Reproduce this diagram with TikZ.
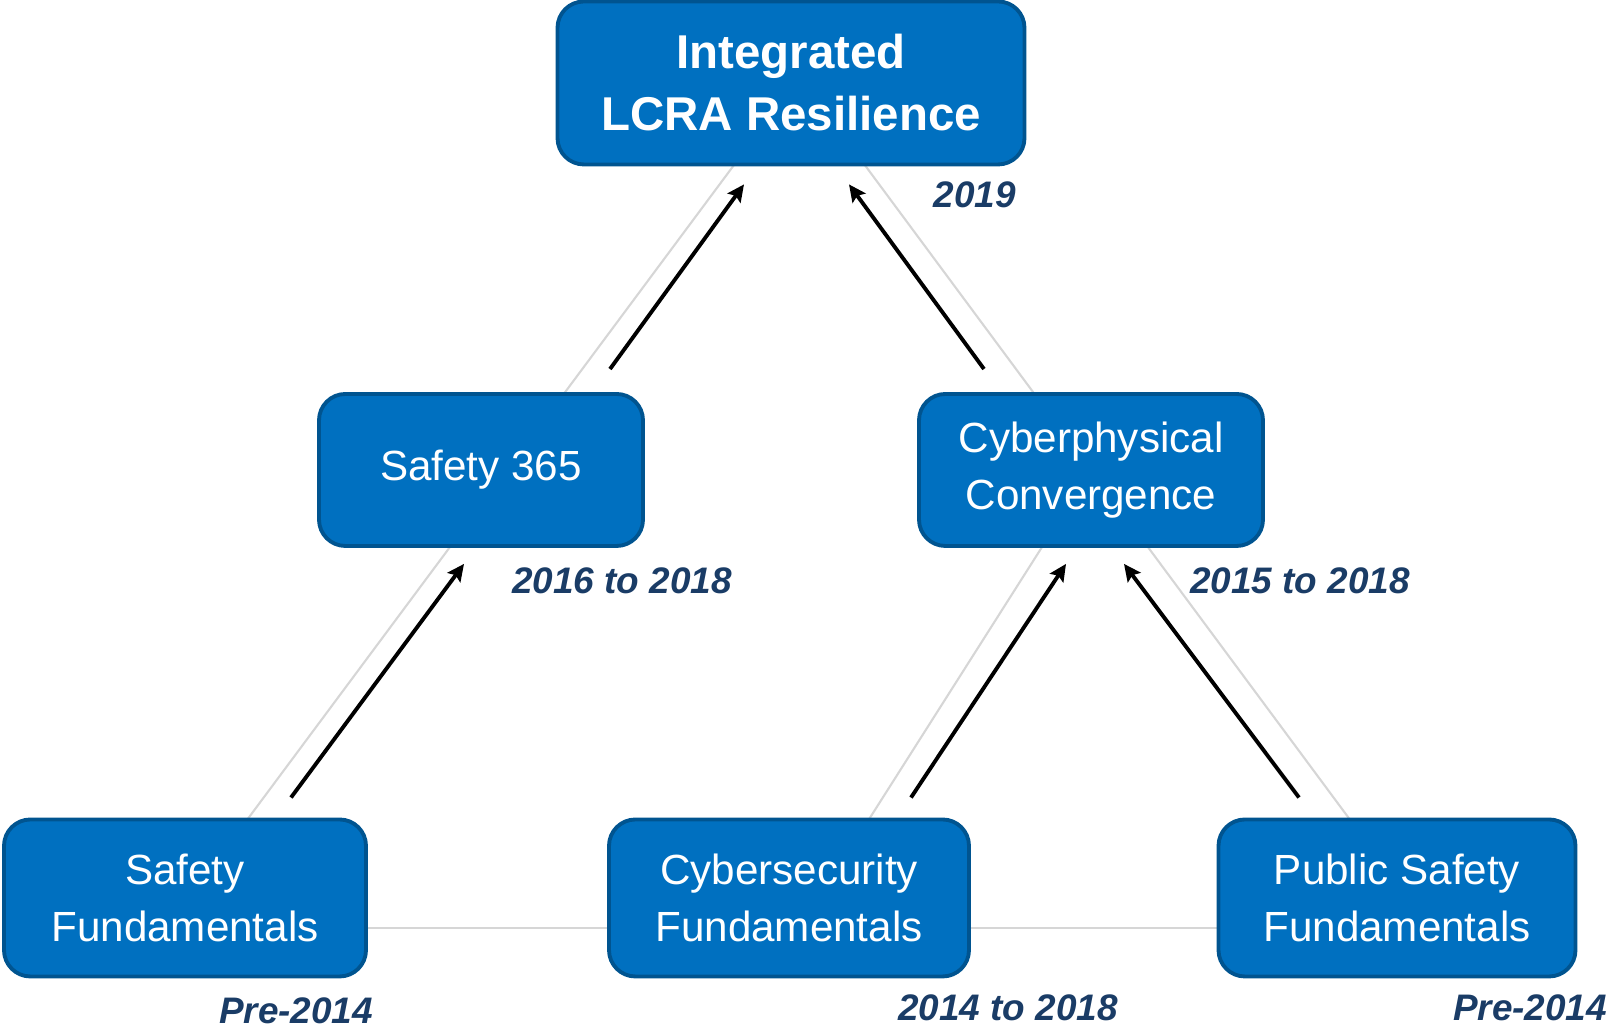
\documentclass[tikz,border=0pt]{standalone}
\usepackage{fontspec}
\setmainfont{Liberation Sans}
\usetikzlibrary{arrows.meta,backgrounds}

\definecolor{boxblue}{RGB}{0,112,192}
\definecolor{boxedge}{RGB}{0,84,144}
\definecolor{yearblue}{RGB}{26,60,102}
\definecolor{guide}{RGB}{214,214,214}

\begin{document}
\begin{tikzpicture}[
  font=\fontsize{12}{16.3}\selectfont,
  stage/.style={rectangle, draw=boxedge, line width=1.1pt, rounded corners=7.5pt,
                fill=boxblue, text=white, align=center, minimum height=1.57cm},
  year/.style={font=\fontsize{10.5}{12}\selectfont\bfseries\itshape, text=yearblue},
  link/.style={draw=guide, line width=0.6pt},
  arr/.style={-{Stealth[length=1.7mm,width=1.6mm,inset=0.3mm]}, line width=1.1pt}
]
\useasboundingbox (0,0) rectangle (16.10,10.29);

% --- Etapas ---
\node[stage, minimum width=4.67cm, minimum height=1.63cm,
      font=\fontsize{13.5}{17.6}\selectfont\bfseries] (res) at (7.91, 9.46)
      {Integrated\\LCRA Resilience};
\node[stage, minimum width=3.24cm, minimum height=1.52cm] (s365) at (4.81, 5.59)
      {Safety 365};
\node[stage, minimum width=3.44cm, minimum height=1.52cm] (cyber) at (10.91, 5.59)
      {Cyberphysical\\Convergence};
\node[stage, minimum width=3.62cm] (sf) at (1.85, 1.31)
      {Safety\\Fundamentals};
\node[stage, minimum width=3.60cm] (csf) at (7.89, 1.31)
      {Cybersecurity\\Fundamentals};
\node[stage, minimum width=3.57cm] (psf) at (13.97, 1.31)
      {Public Safety\\Fundamentals};

% --- Periodos ---
\node[year] (y19) at (9.75, 8.34) {2019};
\node[year] (y1618) at (6.22, 4.48) {2016 to 2018};
\node[year] (y1518) at (13.00, 4.48) {2015 to 2018};
\node[year] (ysf) at (2.96, 0.18) {Pre-2014};
\node[year] (y1418) at (10.08, 0.21) {2014 to 2018};
\node[year] (ypsf) at (15.30, 0.21) {Pre-2014};

% --- Lineas guia (detras) ---
\begin{scope}[on background layer]
  \draw[link] ([xshift=0.4mm]sf.center) -- ([xshift=0.4mm]res.center);
  \draw[link] ([xshift=1.3mm]res.center) -- ([xshift=1.1mm]psf.center);
  \draw[link] ([yshift=-3mm]sf.east) -- ([yshift=-3mm]csf.west);
  \draw[link] ([yshift=-3mm]csf.east) -- ([yshift=-3mm]psf.west);
  \draw[link] (cyber.center) -- ([xshift=3mm]csf.center);
\end{scope}

% --- Flechas ---
\draw[arr] ([shift={(1.06,0.20)}]sf.north) -- ([shift={(-0.17,-0.16)}]s365.south);
\draw[arr] ([shift={(1.29,0.23)}]s365.north) -- ([shift={(-0.47,-0.18)}]res.south);
\draw[arr] ([shift={(-1.07,0.23)}]cyber.north) -- ([shift={(0.58,-0.18)}]res.south);
\draw[arr] ([shift={(1.22,0.20)}]csf.north) -- ([shift={(-0.25,-0.16)}]cyber.south);
\draw[arr] ([shift={(-0.98,0.20)}]psf.north) -- ([shift={(0.33,-0.16)}]cyber.south);

\end{tikzpicture}
\end{document}
